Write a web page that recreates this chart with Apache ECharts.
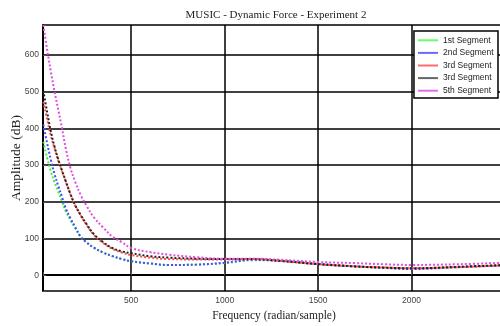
<!DOCTYPE html>
<html>
<head>
<meta charset="utf-8">
<script src="https://cdn.jsdelivr.net/npm/echarts@6/dist/echarts.min.js"></script>
<style>
html,body{margin:0;padding:0;background:#fff;}
#chart{width:500px;height:326px;}
</style>
</head>
<body>
<div id="chart"></div>
<script>
// Frequency (radian/sample) sample points
var freq = [30, 50, 70, 90, 110, 130, 150, 175, 200, 230, 260, 300, 350, 400, 450, 500, 600, 700, 850, 1000, 1150, 1300, 1500, 1700, 1850, 2000, 2250, 2500];
// Amplitude (dB) per segment
var seg1 = [364, 320, 283, 253, 228, 200, 174, 150, 128, 104, 90, 75, 62, 52, 44, 38, 32, 28, 29, 33, 41, 39, 31, 24, 20, 18, 22, 27];
var seg2 = [411, 360, 315, 275, 243, 213, 182, 155, 132, 105, 90, 75, 62, 52, 44, 38, 32, 28, 29, 34, 42, 39, 31, 24, 20, 17, 22, 27];
var seg3 = [473, 425, 380, 345, 312, 283, 255, 220, 190, 163, 138, 110, 88, 72, 62, 55, 48, 44, 43, 43, 44, 39, 30, 24, 21, 19, 22, 27];
var seg4 = [503, 445, 392, 350, 315, 285, 256, 221, 191, 164, 140, 112, 90, 74, 65, 60, 52, 48, 45, 44, 44, 39, 30, 24, 21, 19, 23, 28];
var seg5 = [682, 615, 555, 500, 450, 400, 345, 292, 255, 218, 190, 158, 130, 105, 90, 74, 63, 56, 49, 45, 45, 42, 36, 33, 30, 28, 30, 34];
var names = ['1st Segment', '2nd Segment', '3rd Segment', '3rd Segment ', '5th Segment'];
var colors = ['#3df03d', '#4a4aff', '#ff4a4a', '#222222', '#e04ee0'];
var legendColors = ['#66ff66', '#6a6aff', '#ff6a6a', '#666666', '#e070e0'];

function pairs(ys) { return freq.map(function (x, i) { return [x, ys[i]]; }); }
var allSeries = [seg1, seg2, seg3, seg4, seg5];

var chart = echarts.init(document.getElementById('chart'), null, {renderer: 'canvas'});
var sans = "'Liberation Sans', Arial, sans-serif";
var serif = "'Liberation Serif', 'Times New Roman', serif";

chart.setOption({
  animation: false,
  backgroundColor: '#fff',
  title: {
    text: 'MUSIC - Dynamic Force - Experiment 2',
    left: 271, top: 5, textAlign: 'center',
    textStyle: {fontFamily: serif, fontSize: 11, fontWeight: 'normal', color: '#222'}
  },
  legend: {
    orient: 'vertical', right: 2, top: 31,
    backgroundColor: '#fff', borderColor: '#000', borderWidth: 1.5,
    padding: [3, 4, 1, 4], itemGap: 0, itemWidth: 20, itemHeight: 2,
    icon: 'rect',
    textStyle: {fontFamily: sans, fontSize: 8.5, color: '#222', lineHeight: 12.6},
    data: names.map(function (n, i) { return {name: n, itemStyle: {color: legendColors[i]}}; })
  },
  grid: {left: 43, top: 25, right: -5, bottom: 35, outerBoundsMode: 'none', containLabel: false},
  xAxis: {
    type: 'value', min: 28, max: 2500, splitNumber: 5,
    name: 'Frequency (radian/sample)', nameLocation: 'middle', nameGap: 19,
    nameTextStyle: {fontFamily: serif, fontSize: 11.5, color: '#222'},
    axisLine: {show: true, lineStyle: {color: '#000', width: 2}},
    axisTick: {show: true, inside: true, length: 3, lineStyle: {color: '#555'}},
    axisLabel: {fontFamily: sans, fontSize: 8.5, color: '#444', margin: 5,
      formatter: function (v) { return (v % 500 === 0 && v < 2500) ? String(v) : ''; }},
    splitLine: {show: true, lineStyle: {color: '#000', width: 1.5}}
  },
  yAxis: {
    type: 'value', min: -43, max: 682, splitNumber: 7,
    name: 'Amplitude (dB)', nameLocation: 'middle', nameGap: 20, nameMoveOverlap: false,
    nameTextStyle: {fontFamily: serif, fontSize: 13.5, color: '#222'},
    axisLine: {show: true, lineStyle: {color: '#000', width: 2}},
    axisTick: {show: true, inside: true, length: 3, lineStyle: {color: '#555'}},
    axisLabel: {fontFamily: sans, fontSize: 8.5, color: '#444', margin: 4,
      formatter: function (v) { return (v % 100 === 0) ? String(v) : ''; }},
    splitLine: {show: true, lineStyle: {color: '#000', width: 1.5}}
  },
  series: allSeries.map(function (ys, i) {
    return {
      name: names[i], type: 'line', data: pairs(ys), smooth: 0.4,
      showSymbol: false, symbol: 'none', clip: true,
      itemStyle: {color: colors[i]},
      lineStyle: {color: colors[i], width: 2, type: 'dotted'}
    };
  })
});
</script>
</body>
</html>
